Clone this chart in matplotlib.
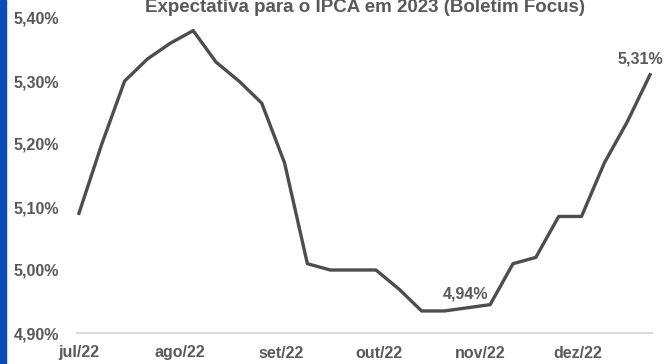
import matplotlib
matplotlib.use("Agg")
import matplotlib.pyplot as plt
from matplotlib.patches import Rectangle
import pandas as pd

# Boletim Focus: median expectation for 2023 IPCA, weekly readings
dates = pd.date_range("2022-07-01", "2022-12-23", freq="7D")
ipca_2023 = [5.09, 5.20, 5.30, 5.335, 5.36, 5.38, 5.33, 5.30, 5.265, 5.17,
             5.01, 5.00, 5.00, 5.00, 4.97, 4.935, 4.935, 4.94, 4.945, 5.01,
             5.02, 5.085, 5.085, 5.17, 5.235, 5.31]
y_ticks = [4.90, 5.00, 5.10, 5.20, 5.30, 5.40]
month_ticks = pd.date_range("2022-07-01", "2022-12-01", freq="MS")
month_labels = ["jul/22", "ago/22", "set/22", "out/22", "nov/22", "dez/22"]
labeled_points = [17, 25]
title = "Expectativa para o IPCA em 2023 (Boletim Focus)"

plt.rcParams["font.family"] = ["Liberation Sans", "DejaVu Sans"]
text_gray = "#595959"
line_gray = "#4d4d4d"

W, H = 668, 364
fig = plt.figure(figsize=(W / 100, H / 100), dpi=100)
ax = fig.add_axes([77 / W, (H - 333) / H, (652 - 77) / W, (333 - 18) / H])

ax.plot(dates, ipca_2023, color=line_gray, lw=2.4, solid_joinstyle="round",
        clip_on=False, zorder=3)

pad_days = pd.Timedelta(days=0.6)
ax.set_xlim(dates[0] - pad_days, dates[-1] + pad_days)
ax.set_ylim(4.90, 5.40)

ax.set_yticks(y_ticks)
ax.set_yticklabels([f"{v:.2f}%".replace(".", ",") for v in y_ticks])
ax.set_xticks(month_ticks)
ax.set_xticklabels(month_labels)
ax.tick_params(axis="y", length=0, pad=13, labelsize=11.5, labelcolor=text_gray)
ax.tick_params(axis="x", length=0, pad=9, labelsize=11.5, labelcolor=text_gray)
for lbl in ax.get_xticklabels() + ax.get_yticklabels():
    lbl.set_fontweight("bold")

for side in ["top", "right", "left"]:
    ax.spines[side].set_visible(False)
ax.spines["bottom"].set_color("#d9d9d9")
ax.spines["bottom"].set_linewidth(1.5)

offsets = {17: (-2, 6), 25: (-10, 8)}
for i in labeled_points:
    ax.annotate(f"{ipca_2023[i]:.2f}%".replace(".", ","),
                (dates[i], ipca_2023[i]), xytext=offsets[i],
                textcoords="offset pixels", ha="center", va="bottom",
                fontsize=11.5, fontweight="bold", color=text_gray)

fig.text(365 / W, 1 - 12 / H, title, ha="center", va="baseline",
         fontsize=13.5, fontweight="bold", color=text_gray)

fig.patches.append(Rectangle((0, 0), 6 / W, 1, transform=fig.transFigure,
                             color="#0a4db5", zorder=10))

fig.savefig("out.png", dpi=100)
